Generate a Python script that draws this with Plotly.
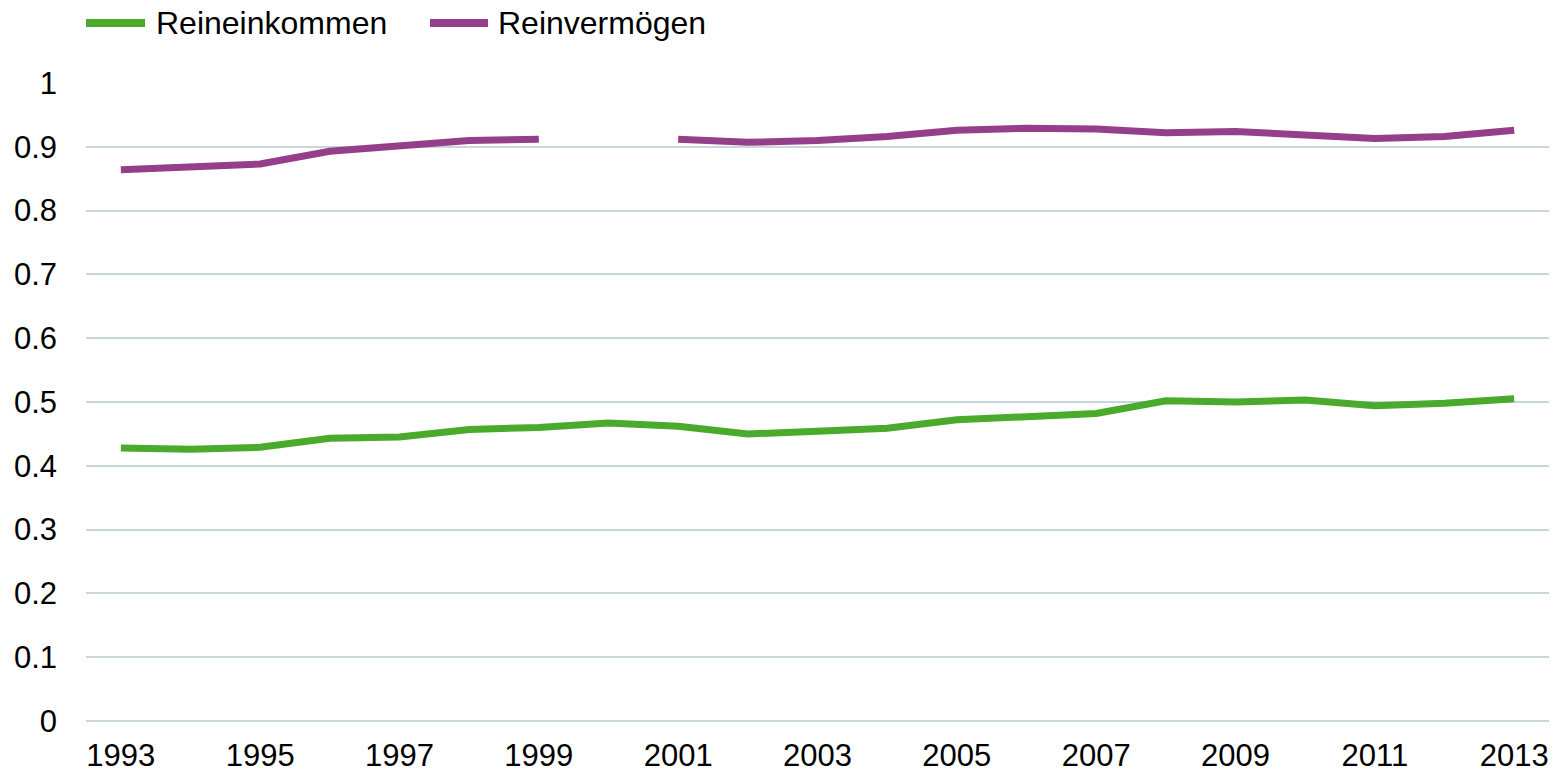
import plotly.graph_objects as go

years = list(range(1993, 2014))
series_names = ["Reineinkommen", "Reinvermögen"]
reineinkommen = [0.428, 0.426, 0.429, 0.443, 0.445, 0.457, 0.460, 0.467, 0.462, 0.450,
                 0.454, 0.459, 0.472, 0.477, 0.482, 0.502, 0.500, 0.503, 0.494, 0.498, 0.505]
reinvermoegen = [0.864, 0.868, 0.873, 0.893, 0.901, 0.910, 0.912, None, 0.912, 0.907,
                 0.910, 0.916, 0.926, 0.929, 0.928, 0.922, 0.924, 0.919, 0.913, 0.916, 0.926]
colors = ["#49AA2B", "#953F8B"]
x_ticks = list(range(1993, 2014, 2))
y_ticks = [0, 0.1, 0.2, 0.3, 0.4, 0.5, 0.6, 0.7, 0.8, 0.9, 1]
y_ticktext = ["0", "0.1", "0.2", "0.3", "0.4", "0.5", "0.6", "0.7", "0.8", "0.9", "1"]

W, H = 1563, 773
L, R, T, B = 86, 14, 83, 51.5
FONT = "Liberation Sans, Arial, sans-serif"

fig = go.Figure()
for name, vals, col in zip(series_names, [reineinkommen, reinvermoegen], colors):
    fig.add_trace(go.Scatter(x=years, y=vals, mode="lines", name=name,
                             line=dict(color=col, width=7), connectgaps=False,
                             showlegend=False))

# custom legend (positions given in page pixels)
def px_x(p):
    return (p - L) / (W - L - R)

def px_y(p):
    return (H - B - p) / (H - T - B)

legend_items = [(86, 145, 154), (430, 488, 496)]
for (x0, x1, xt), name, col in zip(legend_items, series_names, colors):
    fig.add_shape(type="line", xref="paper", yref="paper",
                  x0=px_x(x0), x1=px_x(x1), y0=px_y(23), y1=px_y(23),
                  line=dict(color=col, width=8))
    fig.add_annotation(xref="paper", yref="paper", x=px_x(xt), y=px_y(23),
                       text=name, showarrow=False, xanchor="left", yanchor="middle",
                       font=dict(family=FONT, size=32, color="#000000"))

fig.update_layout(
    width=W, height=H,
    margin=dict(l=L, r=R, t=T, b=B),
    plot_bgcolor="white", paper_bgcolor="white",
    showlegend=False,
    font=dict(family=FONT, size=31, color="#000000"),
)
fig.update_xaxes(range=[1992.5, 2013.5], tickmode="array", tickvals=x_ticks,
                 ticktext=[str(v) for v in x_ticks], showgrid=False, zeroline=False,
                 showline=False, ticks="", ticklabelstandoff=13, automargin=False,
                 tickfont=dict(family=FONT, size=31, color="#000000"))
fig.update_yaxes(range=[0, 1], tickmode="array", tickvals=y_ticks, ticktext=y_ticktext,
                 showgrid=True, gridcolor="#C8D7DE", gridwidth=1.5,
                 zeroline=True, zerolinecolor="#C8D7DE", zerolinewidth=1.5,
                 showline=False, ticks="", ticklabelstandoff=28, automargin=False,
                 tickfont=dict(family=FONT, size=31, color="#000000"))

fig.write_html("out.html", config={"displayModeBar": False},
               post_script="document.body.style.margin='0';document.body.style.overflow='hidden';")
